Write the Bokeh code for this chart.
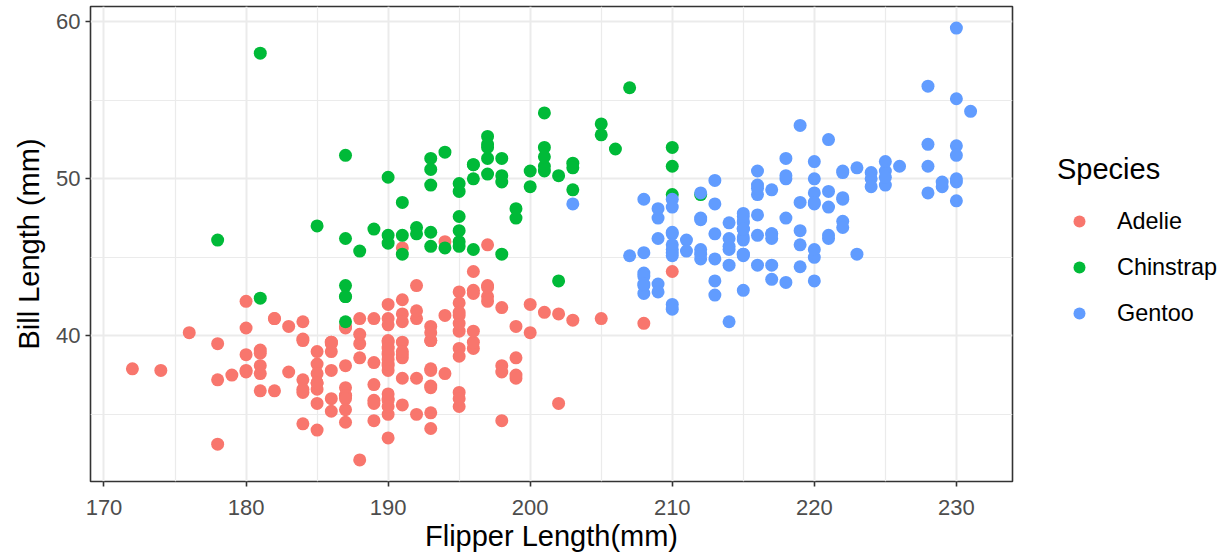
from bokeh.plotting import figure
from bokeh.models import FixedTicker, Range1d, Legend, LegendItem
from bokeh.layouts import row
from bokeh.embed import file_html
from bokeh.resources import INLINE

species = ["Adelie", "Chinstrap", "Gentoo"]
colors = ["#F8766D", "#00BA38", "#619CFF"]

adelie_flipper = [181, 186, 195, 193, 190, 181, 195, 193, 190, 186, 180, 182, 191, 198, 185, 195, 197, 184, 194,
                  174, 180, 189, 185, 180, 187, 183, 187, 172, 180,
                  178, 178, 188, 184, 195, 196, 190, 180, 181, 184, 182, 195, 186, 196, 185, 190, 182, 179, 190, 191,
                  186, 188, 190, 200, 187, 191, 186, 193, 181, 194, 185, 195, 185, 192, 184, 192, 195, 188,
                  190, 198, 190, 190, 196, 197, 190, 195, 191, 184, 187, 195, 189, 196, 187, 193, 191, 194, 190, 189,
                  189, 190, 202, 205, 185, 186, 187, 208, 190, 196, 178, 192,
                  192, 203, 183, 190, 193, 184, 199, 190, 181, 197, 198, 191, 193, 197, 191, 196,
                  188, 199, 189, 189, 187, 198, 176, 202, 186, 199, 191, 195, 191, 210, 190, 197,
                  193, 199, 187, 190, 191, 200, 185, 193, 193, 187, 188, 190, 192, 185, 190, 184, 195, 193, 187, 201]
adelie_bill = [39.1, 39.5, 40.3, 36.7, 39.3, 38.9, 39.2, 34.1, 42.0, 37.8, 37.8, 41.1, 38.6, 34.6, 36.6, 38.7, 42.5, 34.4, 46.0,
               37.8, 37.7, 35.9, 38.2, 38.8, 35.3, 40.6, 40.5, 37.9, 40.5,
               39.5, 37.2, 39.5, 40.9, 36.4, 39.2, 38.8, 42.2, 37.6, 39.8, 36.5, 40.8, 36.0, 44.1, 37.0, 39.6, 41.1, 37.5, 36.0, 42.3,
               39.6, 40.1, 35.0, 42.0, 34.5, 41.4, 39.0, 40.6, 36.5, 37.6, 35.7, 41.3, 37.6, 41.1, 36.4, 41.6, 35.5, 41.1,
               35.9, 41.8, 33.5, 39.7, 39.6, 45.8, 35.5, 42.8, 40.9, 37.2, 36.2, 42.1, 34.6, 42.9, 36.7, 35.1, 37.3, 41.3, 36.3, 36.9,
               38.3, 38.9, 35.7, 41.1, 34.0, 39.6, 36.2, 40.8, 38.1, 40.3, 33.1, 43.2,
               35.0, 41.0, 37.7, 37.8, 37.9, 39.7, 38.6, 38.2, 38.1, 43.2, 38.1, 45.6, 39.7, 42.2, 39.6, 42.7,
               38.6, 37.3, 35.7, 41.1, 36.2, 37.7, 40.2, 41.4, 35.2, 40.6, 38.8, 41.5, 39.0, 44.1, 38.5, 43.1,
               36.8, 37.5, 38.1, 41.1, 35.6, 40.2, 37.0, 39.7, 40.2, 40.6, 32.1, 40.7, 37.3, 39.0, 39.2, 36.6, 36.0, 37.8, 36.0, 41.5]

chinstrap_flipper = [192, 196, 193, 188, 197, 198, 178, 197, 195, 198, 193, 194, 185, 201, 190, 201, 197, 181, 190, 195,
                     181, 191, 187, 193, 195, 197, 200, 200, 191, 205, 187, 201, 187, 203, 195, 199, 195, 210, 192, 205,
                     210, 187, 196, 196, 196, 201, 190, 212, 187, 198, 199, 201, 193, 203, 187, 197, 191, 203, 202, 194,
                     206, 189, 195, 207, 202, 193, 210, 198]
chinstrap_bill = [46.5, 50.0, 51.3, 45.4, 52.7, 45.2, 46.1, 51.3, 46.0, 51.3, 46.6, 51.7, 47.0, 52.0, 45.9, 50.5, 50.3, 58.0, 46.4, 49.2,
                  42.4, 48.5, 43.2, 50.6, 46.7, 52.0, 50.5, 49.5, 46.4, 52.8, 40.9, 54.2, 42.5, 51.0, 49.7, 47.5, 47.6, 52.0, 46.9, 53.5,
                  49.0, 46.2, 50.9, 45.5, 50.9, 50.8, 50.1, 49.0, 51.5, 49.8, 48.1, 51.4, 45.7, 50.7, 42.5, 52.2, 45.2, 49.3, 50.2, 45.6,
                  51.9, 46.8, 45.7, 55.8, 43.5, 49.6, 50.8, 50.2]

gentoo_flipper = [211, 230, 210, 218, 215, 210, 211, 219, 209, 215, 214, 216, 214, 213, 210, 217, 210, 221, 209, 222,
                  218, 215, 213, 215, 215, 215, 216, 215, 210, 220, 222, 209, 207, 230, 220, 220, 213, 219, 208, 208,
                  208, 225, 210, 216, 222, 217, 210, 225, 213, 215, 210, 220, 210, 225, 217, 220, 208, 220, 208, 224,
                  208, 221, 214, 231, 219, 230, 214, 229, 220, 223, 216, 221, 221, 217, 216, 230, 209, 220, 215, 223,
                  212, 221, 212, 224, 212, 228, 218, 218, 212, 230, 218, 228, 212, 224, 214, 226, 216, 222, 203, 225,
                  219, 228, 215, 228, 215, 215, 210, 219, 208, 209, 216, 229, 213, 230, 217, 230, 217, 222, 214, 215,
                  222, 212, 213]
gentoo_bill = [46.1, 50.0, 48.7, 50.0, 47.6, 46.5, 45.4, 46.7, 43.3, 46.8, 40.9, 49.0, 45.5, 48.4, 45.8, 49.3, 42.0, 49.2, 46.2, 48.7,
               50.2, 45.1, 46.5, 46.3, 42.9, 46.1, 44.5, 47.8, 48.2, 50.0, 47.3, 42.8, 45.1, 59.6, 49.1, 48.4, 42.6, 44.4, 44.0, 48.7,
               42.7, 49.6, 45.3, 49.6, 50.5, 43.6, 45.5, 50.5, 44.9, 45.2, 46.6, 48.5, 45.1, 50.1, 46.5, 45.0, 43.8, 45.5, 43.2, 50.4,
               45.3, 46.2, 45.7, 54.3, 45.8, 49.8, 46.2, 49.5, 43.5, 50.7, 47.7, 46.4, 48.2, 46.5, 46.4, 48.6, 47.5, 51.1, 45.2, 45.2,
               49.1, 52.5, 47.4, 50.0, 44.9, 50.8, 43.4, 51.3, 47.5, 52.1, 47.5, 52.2, 45.5, 49.5, 44.5, 50.8, 49.4, 46.9, 48.4, 51.1,
               48.5, 55.9, 47.2, 49.1, 47.3, 46.8, 41.7, 53.4, 43.3, 48.1, 50.5, 49.8, 43.5, 51.5, 46.2, 55.1, 44.5, 48.8, 47.2, 46.8,
               50.4, 45.2, 49.9]

x_ticks = [170, 180, 190, 200, 210, 220, 230]
x_minor = [175, 185, 195, 205, 215, 225]
y_ticks = [40, 50, 60]
y_minor = [35, 45, 55]

x_title = "Flipper Length(mm)"
y_title = "Bill Length (mm)"
legend_title = "Species"

FONT = "Liberation Sans"
TICK_FS = "22px"
TITLE_FS = "29px"
LEG_FS = "23.4px"

p = figure(width=1014, height=554, output_backend="svg", toolbar_location=None,
           x_range=Range1d(169.05, 233.95), y_range=Range1d(30.725, 60.975),
           min_border_left=90, min_border_right=2, min_border_top=6, min_border_bottom=73)

p.background_fill_color = "white"
p.border_fill_color = "white"
p.outline_line_color = "#333333"
p.outline_line_width = 1.6

xs = [adelie_flipper, chinstrap_flipper, gentoo_flipper]
ys = [adelie_bill, chinstrap_bill, gentoo_bill]
for name, col, x, y in zip(species, colors, xs, ys):
    p.scatter(x, y, size=13, fill_color=col, line_color=None)

p.xaxis.ticker = FixedTicker(ticks=x_ticks, minor_ticks=x_minor)
p.yaxis.ticker = FixedTicker(ticks=y_ticks, minor_ticks=y_minor)

for ax in (p.xaxis[0], p.yaxis[0]):
    ax.axis_line_color = None
    ax.major_tick_line_color = "#333333"
    ax.major_tick_line_width = 1.6
    ax.major_tick_out = 5
    ax.major_tick_in = 0
    ax.minor_tick_line_color = None
    ax.major_label_text_font = FONT
    ax.major_label_text_font_size = TICK_FS
    ax.major_label_text_color = "#4D4D4D"
    ax.axis_label_text_font = FONT
    ax.axis_label_text_font_size = TITLE_FS
    ax.axis_label_text_font_style = "normal"
    ax.axis_label_text_color = "black"

p.xaxis.axis_label = x_title
p.yaxis.axis_label = y_title
p.xaxis.major_label_standoff = 13
p.yaxis.major_label_standoff = 5
p.xaxis.axis_label_standoff = 2
p.yaxis.axis_label_standoff = 8

for g in (p.xgrid[0], p.ygrid[0]):
    g.grid_line_color = "#EBEBEB"
    g.grid_line_width = 2
    g.minor_grid_line_color = "#EBEBEB"
    g.minor_grid_line_width = 1.2

# legend panel (keys drawn from one off-range point per species)
q = figure(width=211, height=554, output_backend="svg", toolbar_location=None,
           x_range=Range1d(0, 1), y_range=Range1d(0, 1),
           x_axis_type=None, y_axis_type=None, min_border=0)
q.outline_line_color = None
q.background_fill_color = "white"
q.border_fill_color = "white"
q.xgrid.visible = False
q.ygrid.visible = False
items = []
for name, col in zip(species, colors):
    r = q.scatter([-10], [-10], size=13, fill_color=col, line_color=None)
    items.append(LegendItem(label=name, renderers=[r]))

lg = Legend(items=items)
lg.title = legend_title
lg.title_text_font = FONT
lg.title_text_font_size = TITLE_FS
lg.title_text_font_style = "normal"
lg.title_text_color = "black"
lg.title_standoff = 20
lg.label_text_font = FONT
lg.label_text_font_size = LEG_FS
lg.label_text_color = "black"
lg.glyph_width = 44
lg.glyph_height = 30
lg.label_height = 30
lg.spacing = 16
lg.label_standoff = 16
lg.padding = 0
lg.margin = 0
lg.border_line_color = None
lg.background_fill_alpha = 0
lg.location = (43, 153)
q.add_layout(lg)

layout = row(p, q)
open("out.html", "w").write(file_html(layout, INLINE))
